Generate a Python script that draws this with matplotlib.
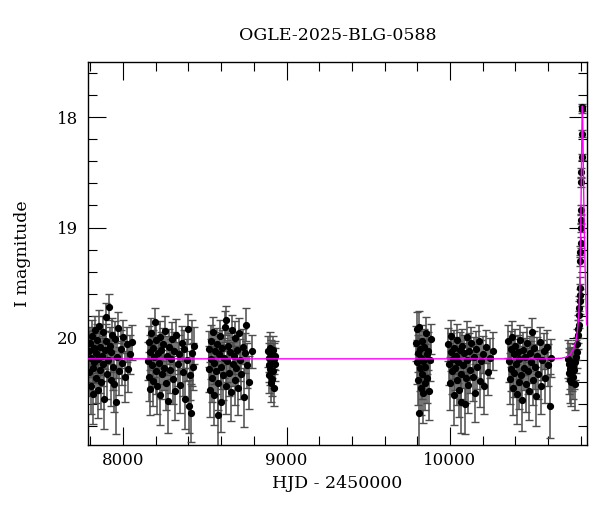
import numpy as np
import matplotlib
matplotlib.use("Agg")
import matplotlib.pyplot as plt
from matplotlib.ticker import MultipleLocator

# OGLE-2025-BLG-0588 light curve

# 2017 season
s1_t = [7790, 7795, 7799, 7803, 7806, 7810, 7814, 7818, 7821, 7825, 7829, 7833, 7836, 7840, 7845, 7849, 7853,
        7858, 7862, 7867, 7871, 7876, 7880, 7885, 7890, 7894, 7899, 7904, 7909, 7914, 7919, 7924, 7929, 7934,
        7940, 7946, 7952, 7958, 7964, 7971, 7978, 7986, 7994, 8003, 8012, 8022, 8033, 8045, 8056]
s1_m = [20.12, 20.31, 20.05, 20.44, 20.18, 19.98, 20.27, 20.51, 20.09, 20.22, 19.93, 20.36, 20.14, 20.02, 20.47,
        20.19, 19.89, 20.29, 20.08, 20.40, 20.16, 19.95, 20.24, 20.55, 20.11, 20.03, 19.81, 20.33, 20.20, 19.72,
        20.07, 20.38, 20.13, 19.97, 20.26, 20.42, 20.01, 20.58, 20.17, 19.91, 20.30, 20.10, 20.23, 19.99, 20.35,
        20.06, 20.28, 20.15, 20.04]
s1_e = [0.18, 0.22, 0.15, 0.25, 0.17, 0.14, 0.20, 0.27, 0.16, 0.19, 0.13, 0.23, 0.18, 0.15, 0.26, 0.19, 0.14,
        0.21, 0.16, 0.24, 0.18, 0.15, 0.20, 0.28, 0.17, 0.16, 0.13, 0.22, 0.19, 0.12, 0.17, 0.24, 0.18, 0.15,
        0.21, 0.25, 0.16, 0.29, 0.19, 0.14, 0.22, 0.17, 0.20, 0.15, 0.23, 0.16, 0.21, 0.18, 0.16]

# 2018 season
s2_t = [8152, 8156, 8160, 8164, 8168, 8172, 8177, 8181, 8186, 8190, 8195, 8199, 8204, 8209, 8214, 8219, 8224,
        8229, 8234, 8239, 8244, 8250, 8255, 8261, 8267, 8273, 8279, 8285, 8291, 8298, 8305, 8312, 8319, 8326,
        8334, 8342, 8350, 8358, 8366, 8374, 8382, 8390, 8398, 8405, 8411, 8417, 8423, 8429, 8435]
s2_m = [20.21, 20.04, 20.35, 20.13, 20.46, 19.96, 20.25, 20.09, 20.39, 20.17, 19.86, 20.30, 20.02, 20.44, 20.14,
        20.23, 19.99, 20.52, 20.11, 20.33, 20.06, 20.27, 19.94, 20.41, 20.16, 20.57, 20.08, 20.29, 20.19, 20.01,
        20.37, 20.12, 20.48, 19.97, 20.24, 20.15, 20.43, 20.05, 20.31, 20.10, 20.55, 20.20, 19.92, 20.62, 20.34,
        20.68, 20.14, 20.26, 20.07]
s2_e = [0.17, 0.15, 0.22, 0.16, 0.24, 0.14, 0.19, 0.16, 0.23, 0.18, 0.13, 0.21, 0.15, 0.25, 0.17, 0.19, 0.14,
        0.27, 0.16, 0.22, 0.15, 0.20, 0.14, 0.24, 0.18, 0.29, 0.16, 0.21, 0.18, 0.15, 0.23, 0.17, 0.26, 0.14,
        0.20, 0.18, 0.25, 0.16, 0.22, 0.17, 0.28, 0.19, 0.14, 0.24, 0.22, 0.26, 0.30, 0.21, 0.17]

# 2019 season
s3_t = [8525, 8529, 8533, 8537, 8541, 8546, 8550, 8555, 8559, 8564, 8569, 8573, 8578, 8582, 8587, 8592, 8597,
        8602, 8607, 8612, 8617, 8622, 8627, 8632, 8637, 8642, 8647, 8653, 8658, 8664, 8670, 8676, 8682, 8688,
        8694, 8700, 8706, 8712, 8718, 8724, 8731, 8738, 8745, 8752, 8760, 8770, 8788]
s3_m = [20.10, 20.28, 20.47, 20.03, 20.19, 20.36, 19.95, 20.23, 20.52, 20.12, 20.30, 20.06, 20.70, 20.41, 20.15,
        19.98, 20.26, 20.58, 20.09, 20.34, 20.18, 19.90, 20.44, 19.84, 20.21, 20.07, 20.32, 20.13, 20.49, 19.93,
        20.24, 20.16, 20.38, 20.00, 20.27, 20.11, 20.45, 19.96, 20.20, 20.33, 20.08, 20.54, 20.14, 19.88, 20.25,
        20.40, 20.12]
s3_e = [0.16, 0.21, 0.25, 0.15, 0.18, 0.22, 0.14, 0.19, 0.27, 0.17, 0.21, 0.15, 0.28, 0.24, 0.17, 0.14, 0.20,
        0.27, 0.16, 0.22, 0.18, 0.14, 0.25, 0.13, 0.19, 0.16, 0.21, 0.17, 0.26, 0.14, 0.20, 0.17, 0.23, 0.15,
        0.20, 0.16, 0.25, 0.14, 0.19, 0.22, 0.16, 0.27, 0.18, 0.15, 0.20, 0.24, 0.15]

# 2020 (short) season
s4_t = [8887, 8890, 8893, 8896, 8899, 8902, 8905, 8908, 8911, 8914, 8917, 8920, 8923, 8926, 8929, 8932]
s4_m = [20.12, 20.25, 20.18, 20.34, 20.09, 20.28, 20.41, 20.15, 20.22, 20.37, 20.11, 20.30, 20.19, 20.45, 20.24, 20.16]
s4_e = [0.14, 0.15, 0.13, 0.16, 0.14, 0.15, 0.17, 0.13, 0.14, 0.16, 0.13, 0.15, 0.14, 0.17, 0.15, 0.13]

# 2022 season
s5_t = [9795, 9798, 9801, 9804, 9807, 9810, 9813, 9816, 9819, 9822, 9825, 9828, 9831, 9834, 9837, 9841, 9845,
        9849, 9853, 9857, 9862, 9867, 9873, 9879, 9886]
s5_m = [20.05, 20.22, 19.92, 20.38, 20.14, 20.68, 19.90, 20.27, 20.10, 20.45, 20.18, 20.03, 20.33, 20.21, 20.50,
        20.08, 20.26, 20.41, 19.96, 20.15, 20.36, 20.12, 20.48, 20.20, 20.01]
s5_e = [0.16, 0.20, 0.15, 0.23, 0.17, 0.30, 0.14, 0.21, 0.16, 0.25, 0.18, 0.15, 0.22, 0.19, 0.27, 0.16, 0.20,
        0.24, 0.15, 0.18, 0.23, 0.17, 0.26, 0.19, 0.14]

# 2023 season
s6_t = [9990, 9995, 9999, 10004, 10008, 10013, 10017, 10022, 10026, 10031, 10036, 10040, 10045, 10050, 10055,
        10060, 10065, 10070, 10075, 10080, 10085, 10090, 10095, 10101, 10107, 10113, 10119, 10125, 10131, 10138,
        10145, 10152, 10159, 10167, 10175, 10183, 10192, 10201, 10211, 10222, 10234, 10247, 10260]
s6_m = [20.06, 20.24, 20.41, 20.13, 19.98, 20.30, 20.19, 20.52, 20.09, 20.27, 20.16, 20.38, 20.02, 20.22, 20.47,
        20.11, 20.33, 20.58, 20.07, 20.25, 20.14, 20.60, 20.36, 19.99, 20.20, 20.43, 20.12, 20.29, 20.05, 20.35,
        20.17, 20.50, 20.10, 20.26, 20.03, 20.39, 20.21, 20.15, 20.44, 20.08, 20.31, 20.18, 20.12]
s6_e = [0.15, 0.19, 0.24, 0.17, 0.14, 0.21, 0.18, 0.27, 0.16, 0.20, 0.17, 0.23, 0.15, 0.19, 0.25, 0.16, 0.22,
        0.28, 0.15, 0.20, 0.17, 0.27, 0.23, 0.14, 0.18, 0.25, 0.16, 0.21, 0.15, 0.22, 0.18, 0.26, 0.16, 0.20,
        0.15, 0.24, 0.19, 0.17, 0.25, 0.15, 0.21, 0.18, 0.17]

# 2024 season
s7_t = [10357, 10362, 10366, 10371, 10375, 10380, 10385, 10389, 10394, 10399, 10404, 10409, 10414, 10419, 10424,
        10429, 10435, 10440, 10446, 10452, 10458, 10464, 10470, 10476, 10482, 10488, 10494, 10500, 10506, 10513,
        10520, 10527, 10534, 10541, 10549, 10557, 10565, 10574, 10583, 10592, 10601, 10610, 10620]
s7_m = [20.03, 20.21, 20.37, 20.10, 20.28, 19.99, 20.45, 20.15, 20.32, 20.07, 20.24, 20.51, 20.13, 20.40, 20.19,
        20.02, 20.34, 20.56, 20.11, 20.27, 20.17, 20.42, 20.05, 20.30, 20.48, 20.14, 20.22, 19.95, 20.38, 20.09,
        20.26, 20.53, 20.16, 20.33, 20.04, 20.44, 20.20, 20.12, 20.36, 20.08, 20.25, 20.62, 20.18]
s7_e = [0.15, 0.19, 0.23, 0.16, 0.20, 0.14, 0.25, 0.17, 0.22, 0.15, 0.19, 0.27, 0.16, 0.24, 0.18, 0.14, 0.22,
        0.28, 0.16, 0.20, 0.17, 0.25, 0.15, 0.21, 0.26, 0.16, 0.19, 0.13, 0.23, 0.15, 0.20, 0.27, 0.17, 0.22,
        0.14, 0.25, 0.18, 0.16, 0.23, 0.15, 0.19, 0.29, 0.17]

# 2025 season, baseline and rise
s8_t = [10722, 10725, 10728, 10731, 10734, 10737, 10740, 10743, 10746, 10750, 10754, 10758, 10762, 10766, 10770,
        10774, 10778, 10781, 10784, 10787, 10790, 10792, 10794, 10796, 10798]
s8_m = [20.19, 20.24, 20.32, 20.21, 20.38, 20.28, 20.23, 20.40, 20.30, 20.26, 20.35, 20.29, 20.42, 20.22, 20.17,
        20.13, 20.06, 19.97, 19.92, 19.88, 19.79, 19.73, 19.67, 19.61, 19.55]
s8_e = [0.17, 0.15, 0.19, 0.16, 0.21, 0.18, 0.15, 0.22, 0.18, 0.16, 0.20, 0.17, 0.23, 0.16, 0.15, 0.14, 0.14,
        0.13, 0.13, 0.12, 0.12, 0.11, 0.11, 0.10, 0.10]

# 2025 peak
s9_t = [10797, 10798, 10799, 10800, 10801, 10802, 10803, 10804, 10805, 10806, 10808, 10809]
s9_m = [19.30, 19.22, 19.14, 19.00, 18.93, 18.84, 18.59, 18.50, 18.36, 18.15, 17.93, 17.91]
s9_e = [0.05, 0.05, 0.05, 0.04, 0.04, 0.04, 0.04, 0.04, 0.03, 0.03, 0.03, 0.03]

# model curve (magenta)
model_t = [7786, 10600, 10680, 10710, 10735, 10755, 10770, 10780, 10788, 10794, 10799, 10803, 10806, 10808,
           10809.5, 10811, 10813, 10816, 10819, 10822, 10826, 10831, 10836]
model_m = [20.19, 20.19, 20.185, 20.175, 20.15, 20.10, 20.03, 19.93, 19.78, 19.55, 19.10, 18.60, 18.20, 17.97,
           17.90, 17.96, 18.15, 18.50, 18.80, 19.05, 19.35, 19.65, 19.88]

t = np.concatenate([s1_t, s2_t, s3_t, s4_t, s5_t, s6_t, s7_t, s8_t, s9_t])
mag = np.concatenate([s1_m, s2_m, s3_m, s4_m, s5_m, s6_m, s7_m, s8_m, s9_m])
err = np.concatenate([s1_e, s2_e, s3_e, s4_e, s5_e, s6_e, s7_e, s8_e, s9_e])

plt.rcParams["font.family"] = ["DejaVu Serif"]

fig = plt.figure(figsize=(6, 5.12), dpi=100)
ax = fig.add_axes([0.1467, 0.131, 0.8311, 0.748])

ax.errorbar(t, mag, yerr=err, fmt="o", color="black", ms=4.2,
            ecolor="0.3", elinewidth=1.1, capsize=3, capthick=1.0, zorder=2)
ax.plot(model_t, model_m, color="#ff00ff", lw=1.0, zorder=3)

ax.set_xlim(7786, 10836)
ax.set_ylim(20.97, 17.5)

ax.xaxis.set_major_locator(MultipleLocator(1000))
ax.xaxis.set_minor_locator(MultipleLocator(200))
ax.yaxis.set_major_locator(MultipleLocator(1))
ax.yaxis.set_minor_locator(MultipleLocator(0.2))
ax.tick_params(which="both", direction="in", top=True, right=True, width=0.8, labelsize=12)
ax.tick_params(which="major", length=13)
ax.tick_params(which="minor", length=6.5)
ax.tick_params(axis="x", which="major", pad=5)
ax.tick_params(axis="y", which="major", pad=7)
for s in ax.spines.values():
    s.set_linewidth(1.0)

fig.text(0.5623, 1 - 35 / 512, "OGLE-2025-BLG-0588", ha="center", va="center", fontsize=12.5)
fig.text(0.5623, 1 - 484 / 512, "HJD - 2450000", ha="center", va="center", fontsize=12.5)
fig.text(0.037, 0.505, "I magnitude", ha="center", va="center", rotation=90, fontsize=12.5)

fig.savefig("out.png", dpi=100)
